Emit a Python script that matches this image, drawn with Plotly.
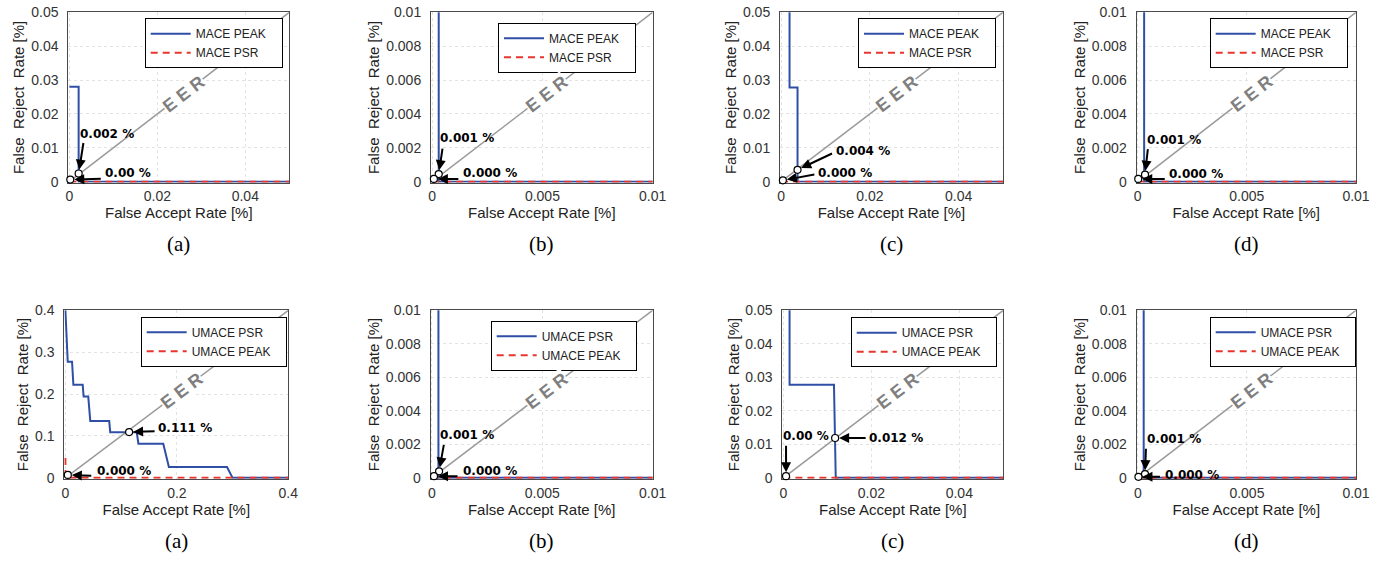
import math
import plotly.graph_objects as go

# ------------------------------------------------------------------ data
top_names = ["MACE PEAK", "MACE PSR"]
bot_names = ["UMACE PSR", "UMACE PEAK"]
panel_letters = ["(a)", "(b)", "(c)", "(d)"]

axis_max = [0.05, 0.01, 0.05, 0.01, 0.4, 0.01, 0.05, 0.01]

ticks_005 = [0, 0.01, 0.02, 0.03, 0.04, 0.05]
ticktext_005 = ["0", "0.01", "0.02", "0.03", "0.04", "0.05"]
xticks_005 = [0, 0.02, 0.04]
xticktext_005 = ["0", "0.02", "0.04"]
ticks_001 = [0, 0.002, 0.004, 0.006, 0.008, 0.01]
ticktext_001 = ["0", "0.002", "0.004", "0.006", "0.008", "0.01"]
xticks_001 = [0, 0.005, 0.01]
xticktext_001 = ["0", "0.005", "0.01"]
ticks_04 = [0, 0.1, 0.2, 0.3, 0.4]
ticktext_04 = ["0", "0.1", "0.2", "0.3", "0.4"]
xticks_04 = [0, 0.2, 0.4]
xticktext_04 = ["0", "0.2", "0.4"]

# top row: MACE PEAK (solid) / MACE PSR (dashed)
ta_peak_x = [0, 0.0021, 0.0021, 0.05]
ta_peak_y = [0.028, 0.028, 0, 0]
ta_psr_x = [0, 0.05]
ta_psr_y = [0, 0]

tb_peak_x = [0.0003, 0.0003, 0.01]
tb_peak_y = [0.02, 0, 0]
tb_psr_x = [0, 0.01]
tb_psr_y = [0, 0]

tc_peak_x = [0.0019, 0.0019, 0.0037, 0.0037, 0.05]
tc_peak_y = [0.1, 0.0278, 0.0278, 0, 0]
tc_psr_x = [0, 0.05]
tc_psr_y = [0, 0]

td_peak_x = [0.0003, 0.0003, 0.01]
td_peak_y = [0.02, 0, 0]
td_psr_x = [0, 0.01]
td_psr_y = [0, 0]

# bottom row: UMACE PSR (solid) / UMACE PEAK (dashed)
ba_psr_x = [0, 0.0024, 0.0042, 0.0119, 0.0143, 0.031, 0.0327, 0.041, 0.0446,
            0.0786, 0.0804, 0.128, 0.131, 0.1756, 0.1857, 0.29, 0.30, 0.4]
ba_psr_y = [0.4, 0.333, 0.277, 0.277, 0.222, 0.222, 0.194, 0.194, 0.136,
            0.136, 0.109, 0.109, 0.0816, 0.0816, 0.026, 0.026, 0, 0]
ba_peak_x = [0, 0, 0.4]
ba_peak_y = [0.0475, 0, 0]

bb_psr_x = [0.0003, 0.0003, 0.01]
bb_psr_y = [0.02, 0, 0]
bb_peak_x = [0, 0.01]
bb_peak_y = [0, 0]

bc_psr_x = [0.0014, 0.0014, 0.0115, 0.0119, 0.05]
bc_psr_y = [0.1, 0.0278, 0.0278, 0, 0]
bc_peak_x = [0, 0.05]
bc_peak_y = [0, 0]

bd_psr_x = [0.00027, 0.00027, 0.01]
bd_psr_y = [0.02, 0, 0]
bd_peak_x = [0, 0.01]
bd_peak_y = [0, 0]

# EER points (x, y) and their labels, per panel
eer_x = [[0.0021, 0.0002], [0.0003, 0.00008], [0.0037, 0.0004], [0.00034, 0.00003],
         [0.1143, 0.0043], [0.00033, 0.0001], [0.01176, 0.0006], [0.00033, 0.00003]]
eer_y = [[0.0024, 0.0006], [0.00045, 0.00016], [0.0035, 0.0004], [0.00041, 0.00016],
         [0.1093, 0.0071], [0.00039, 0.0001], [0.0119, 0.0005], [0.00022, 0.00006]]
eer_labels = [["0.002 %", "0.00 %"], ["0.001 %", "0.000 %"], ["0.004 %", "0.000 %"],
              ["0.001 %", "0.000 %"], ["0.111 %", "0.000 %"], ["0.001 %", "0.000 %"],
              ["0.012 %", "0.00 %"], ["0.001 %", "0.000 %"]]

# ------------------------------------------------------------------ layout / style
W, H = 1380, 562
EDGE_PAD = 0.005                      # small range padding so edge lines show fully

# target positions in screen pixels
plot_px_x = [(68.3, 289.3), (431, 652.7), (780, 1003), (1136.5, 1356),
             (64.3, 288.3), (430.7, 652.7), (782.3, 1003.3), (1136.7, 1356)]
plot_px_y = [(12.3, 182.5)] * 4 + [(310.3, 478.7)] * 4
legend_px = [(282.7, 18.3), (636, 22.7), (996, 18.3), (1347.7, 18.3),
             (286.7, 316.7), (636.7, 320.7), (996.7, 317.3), (1355.7, 316.7)]
# (text xshift, text yshift, arrow ax, arrow ay) for each EER label
label_style = [
    [(28, 40, 5, -32), (58, 7, 32, -1)],
    [(28, 36, 4, -27), (56, 6, 26, 0)],
    [(65, 19, 36, -17), (62, 7, 33, -6)],
    [(29, 35, 3, -27), (58, 5, 28, 0)],
    [(56, 4, 27, -1), (56, 4, 25, 1)],
    [(28, 36, 5, -28), (56, 5, 25, 0)],
    [(61, 0, 32, 0), (20, 40, 0, -32)],
    [(29, 35, 1, -27), (54, 2, 23, 0)],
]
letter_y_px = [244, 541]
LEGEND_TAIL = "\u00a0\u00a0\u00a0"


def px_to_paper_x(px):
    return px / W


def px_to_paper_y(py):
    return 1 - py / H


BLUE = "#2f4fa6"
RED = "#e8352e"
DIAG = "#9a9a9a"
SANS = "Liberation Sans"

series = [
    (ta_peak_x, ta_peak_y, ta_psr_x, ta_psr_y),
    (tb_peak_x, tb_peak_y, tb_psr_x, tb_psr_y),
    (tc_peak_x, tc_peak_y, tc_psr_x, tc_psr_y),
    (td_peak_x, td_peak_y, td_psr_x, td_psr_y),
    (ba_psr_x, ba_psr_y, ba_peak_x, ba_peak_y),
    (bb_psr_x, bb_psr_y, bb_peak_x, bb_peak_y),
    (bc_psr_x, bc_psr_y, bc_peak_x, bc_peak_y),
    (bd_psr_x, bd_psr_y, bd_peak_x, bd_peak_y),
]


def tick_set(m):
    """returns (y tickvals, y ticktext, x tickvals, x ticktext)"""
    if m == 0.05:
        return ticks_005, ticktext_005, xticks_005, xticktext_005
    if m == 0.01:
        return ticks_001, ticktext_001, xticks_001, xticktext_001
    return ticks_04, ticktext_04, xticks_04, xticktext_04


fig = go.Figure()
layout = dict(
    template="none",
    width=W, height=H, autosize=False,
    margin=dict(l=0, r=0, t=0, b=0, pad=0),
    paper_bgcolor="white", plot_bgcolor="white",
    font=dict(family=SANS, size=14, color="#333333"),
)
annotations = []

for i in range(8):
    n = i + 1
    xa = "x" if n == 1 else f"x{n}"
    ya = "y" if n == 1 else f"y{n}"
    lg = "legend" if n == 1 else f"legend{n}"
    m = axis_max[i]
    names = top_names if i < 4 else bot_names
    sx, sy, dx_, dy_ = series[i]

    # diagonal EER line
    fig.add_trace(go.Scatter(x=[0, m], y=[0, m], mode="lines", xaxis=xa, yaxis=ya,
                             line=dict(color=DIAG, width=1.5), showlegend=False,
                             hoverinfo="skip"))
    fig.add_trace(go.Scatter(x=sx, y=sy, mode="lines", name=names[0] + LEGEND_TAIL,
                             xaxis=xa, yaxis=ya,
                             line=dict(color=BLUE, width=2), legend=lg))
    fig.add_trace(go.Scatter(x=dx_, y=dy_, mode="lines", name=names[1] + LEGEND_TAIL,
                             xaxis=xa, yaxis=ya,
                             line=dict(color=RED, width=2, dash="7px,5px"), legend=lg))
    fig.add_trace(go.Scatter(x=eer_x[i], y=eer_y[i], mode="markers", xaxis=xa, yaxis=ya,
                             marker=dict(symbol="circle", size=7, color="white",
                                         line=dict(color="black", width=1.2)),
                             cliponaxis=False, showlegend=False, hoverinfo="skip"))

    x0, x1 = plot_px_x[i]
    y0, y1 = plot_px_y[i]
    yt, ytt, xt, xtt = tick_set(m)
    common = dict(
        ticks="", showgrid=True, gridcolor="#e3e3e3", griddash="dot", gridwidth=1,
        showline=True, mirror=True, linecolor="#4a4a4a", linewidth=1,
        zeroline=False, layer="below traces", automargin=False,
        ticklabeloverflow="allow",
        tickfont=dict(family=SANS, size=14, color="#333333"),
    )
    layout["xaxis" if n == 1 else f"xaxis{n}"] = dict(
        domain=[px_to_paper_x(x0), px_to_paper_x(x1)], range=[-EDGE_PAD * m, m],
        anchor=ya, tickvals=xt, ticktext=xtt, ticklabelstandoff=1,
        title=dict(text="False Accept Rate [%]", standoff=2,
                   font=dict(family=SANS, size=15, color="#222222")),
        **common,
    )
    layout["yaxis" if n == 1 else f"yaxis{n}"] = dict(
        domain=[px_to_paper_y(y1), px_to_paper_y(y0)], range=[-EDGE_PAD * m, m],
        anchor=xa, tickvals=yt, ticktext=ytt, ticklabelstandoff=6,
        title=dict(text="False\u00a0\u00a0Reject\u00a0\u00a0Rate [%]", standoff=2,
                   font=dict(family=SANS, size=15, color="#222222")),
        **common,
    )
    lx, ly = legend_px[i]
    layout[lg] = dict(
        x=px_to_paper_x(lx), y=px_to_paper_y(ly), xanchor="right", yanchor="top",
        xref="paper", yref="paper",
        bgcolor="white", bordercolor="black", borderwidth=1,
        font=dict(family=SANS, size=12, color="#222222"),
        itemwidth=40, tracegroupgap=0,
    )

    # EER text along the diagonal
    ang = math.degrees(math.atan((y1 - y0) / (x1 - x0)))
    annotations.append(dict(
        x=0.52 * m, y=0.52 * m, xref=xa, yref=ya, text="<b>E E R</b>",
        showarrow=False, textangle=-ang, bgcolor="white", borderpad=0,
        font=dict(family=SANS, size=18, color="#7f7f7f"),
    ))

    # EER point labels + arrows
    for k in range(2):
        tx, ty, ax, ay = label_style[i][k]
        annotations.append(dict(
            x=eer_x[i][k], y=eer_y[i][k], xref=xa, yref=ya, text="",
            showarrow=True, ax=ax, ay=ay, arrowhead=2, arrowsize=1,
            arrowwidth=2, arrowcolor="black", standoff=4,
        ))
        annotations.append(dict(
            x=eer_x[i][k], y=eer_y[i][k], xref=xa, yref=ya,
            text="<b>" + eer_labels[i][k] + "</b>", showarrow=False,
            xshift=tx, yshift=ty,
            font=dict(family="DejaVu Sans", size=12, color="black"),
        ))

    # panel letter
    annotations.append(dict(
        x=px_to_paper_x((x0 + x1) / 2), y=px_to_paper_y(letter_y_px[0 if i < 4 else 1]),
        xref="paper", yref="paper", text=panel_letters[i % 4], showarrow=False,
        xanchor="center", yanchor="middle",
        font=dict(family="Liberation Serif", size=21, color="black"),
    ))

layout["annotations"] = annotations
fig.update_layout(**layout)
# remove the page's default 8px body margin so the figure fills the window exactly
fig.write_html("out.html",
               config={"displayModeBar": False, "staticPlot": True},
               post_script="document.body.style.margin='0';"
                           "document.body.style.overflow='hidden';")
